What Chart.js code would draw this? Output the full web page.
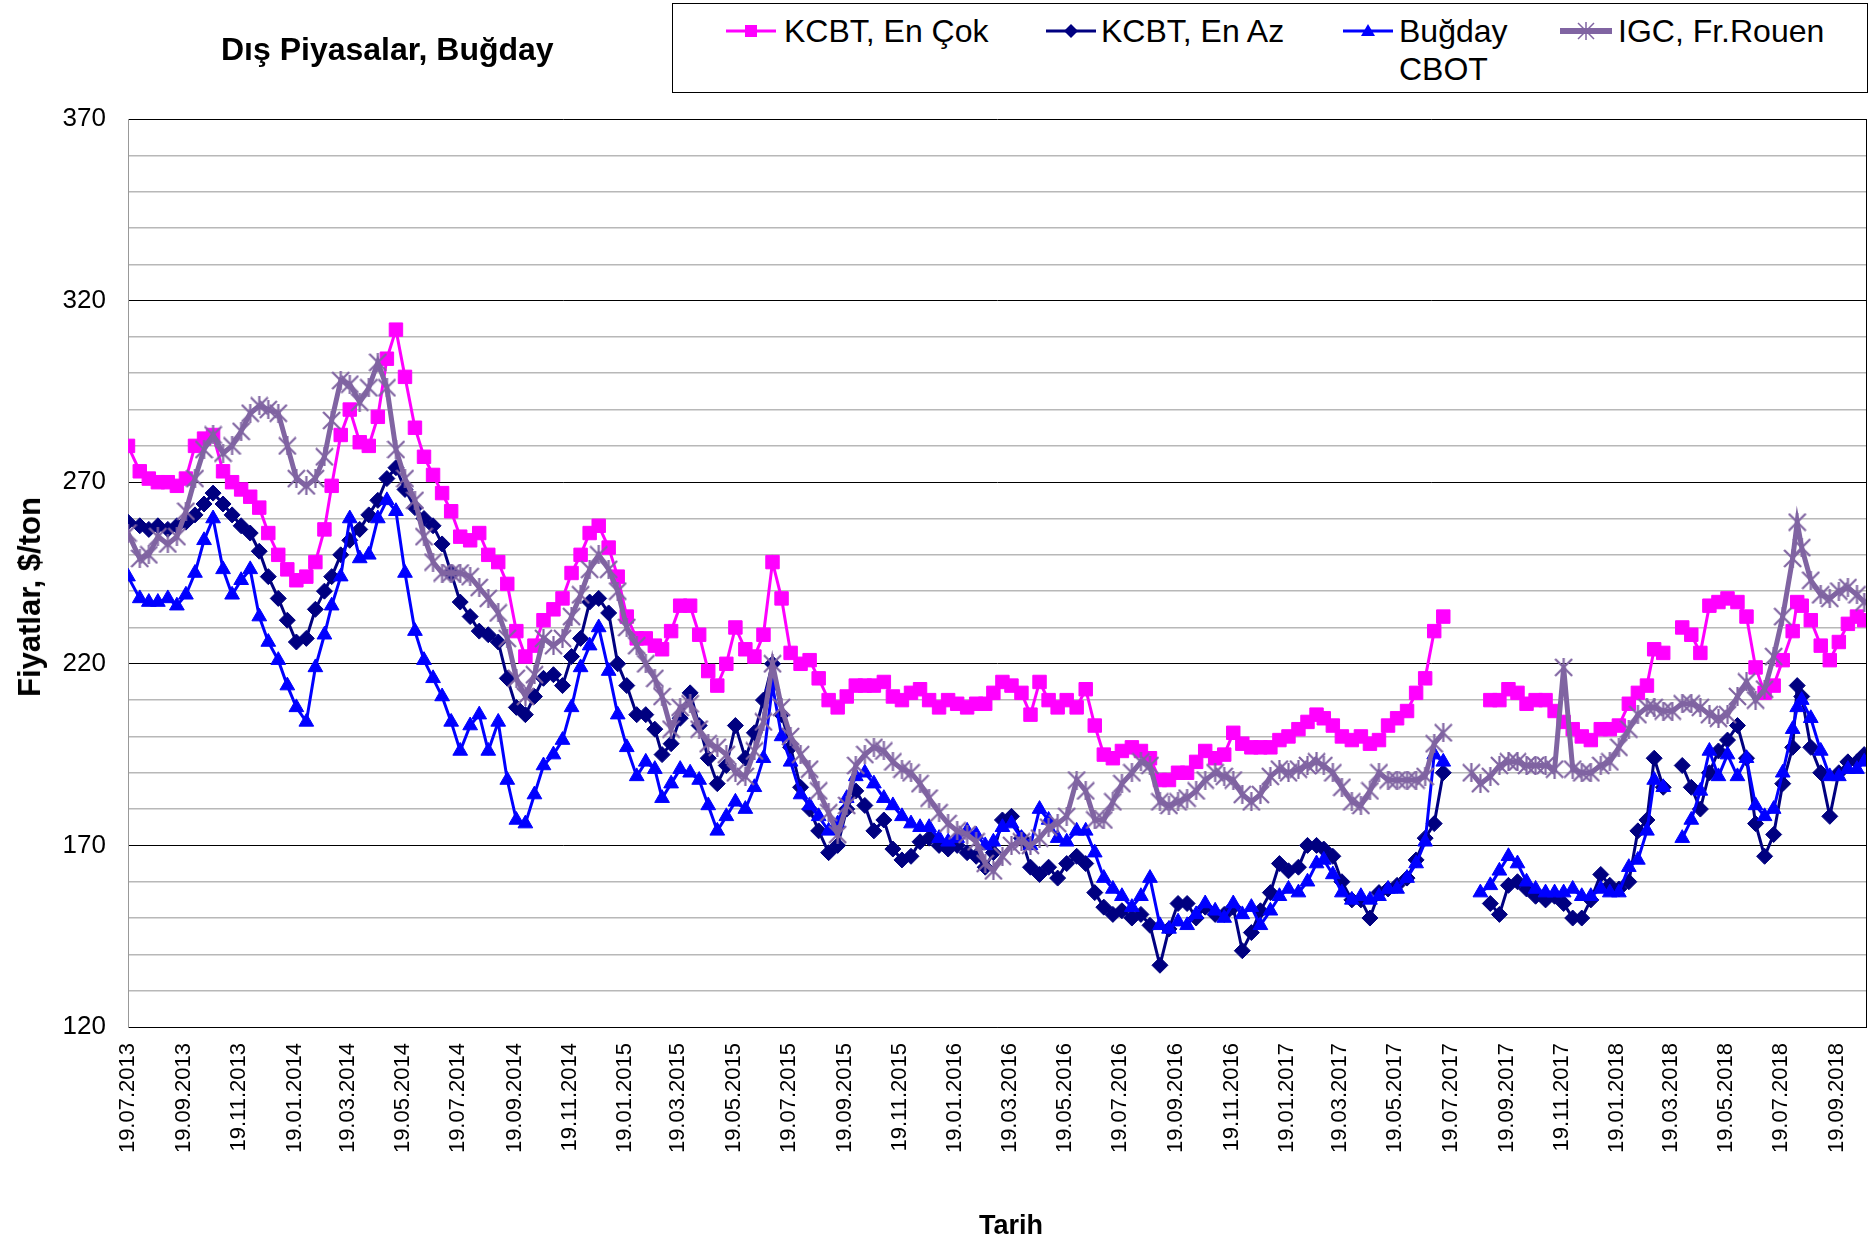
<!DOCTYPE html>
<html lang="tr">
<head>
<meta charset="utf-8">
<title>Dış Piyasalar, Buğday</title>
<script src="https://cdn.jsdelivr.net/npm/chart.js@4.4.0/dist/chart.umd.min.js"></script>
<style>
  html, body { margin: 0; padding: 0; background: #fff; }
  #wrap { position: relative; width: 1870px; height: 1244px; font-family: "Liberation Sans", Arial, sans-serif; color: #000; }
  #chart { position: absolute; left: 0; top: 0; }
  #title { position: absolute; left: 221px; top: 31px; font-size: 32px; font-weight: bold; white-space: nowrap; }
  #ytitle { position: absolute; left: 30px; top: 597px; transform: translate(-50%, -50%) rotate(-90deg); font-size: 31px; font-weight: bold; white-space: nowrap; }
  #xtitle { position: absolute; left: 1011px; top: 1225px; transform: translate(-50%, -50%); font-size: 27px; font-weight: bold; white-space: nowrap; }
  #legend { position: absolute; left: 672px; top: 3px; width: 1196px; height: 90px; border: 1px solid #000; box-sizing: border-box; background: #fff; }
  .item { position: absolute; top: 8px; font-size: 32px; line-height: 38px; white-space: nowrap; }
  .item svg { position: absolute; top: 9px; }
  .item span { position: absolute; top: 0; }
</style>
</head>
<body>
<div id="wrap">
  <canvas id="chart" width="1870" height="1244"></canvas>
  <div id="title">Dış Piyasalar, Buğday</div>
  <div id="ytitle">Fiyatlar, $/ton</div>
  <div id="xtitle">Tarih</div>
  <div id="legend">
    <div class="item" style="left:53px">
      <svg width="50" height="20"><line x1="0" y1="10" x2="50" y2="10" stroke="#FF00FF" stroke-width="3"/><rect x="19" y="4" width="12" height="12" fill="#FF00FF"/></svg>
      <span style="left:58px">KCBT, En Çok</span>
    </div>
    <div class="item" style="left:373px">
      <svg width="50" height="20"><line x1="0" y1="10" x2="50" y2="10" stroke="#000080" stroke-width="3"/><polygon points="25,3 32,10 25,17 18,10" fill="#000080"/></svg>
      <span style="left:55px">KCBT, En Az</span>
    </div>
    <div class="item" style="left:670px">
      <svg width="50" height="20"><line x1="0" y1="10" x2="50" y2="10" stroke="#0000FF" stroke-width="3"/><polygon points="25,3 32,15 18,15" fill="#0000FF"/></svg>
      <span style="left:56px">Buğday<br>CBOT</span>
    </div>
    <div class="item" style="left:887px">
      <svg width="52" height="20"><line x1="0" y1="10" x2="52" y2="10" stroke="#8064A2" stroke-width="6"/><path d="M18 2 L34 18 M34 2 L18 18 M26 1 L26 19" stroke="#8064A2" stroke-width="1.5"/></svg>
      <span style="left:58px">IGC, Fr.Rouen</span>
    </div>
  </div>
</div>
<script>
// observation dates (dd.mm.yyyy)
var dates = [
  '19.07.2013',
  '01.08.2013','11.08.2013','21.08.2013','01.09.2013','11.09.2013','21.09.2013',
  '01.10.2013','11.10.2013','21.10.2013','01.11.2013','11.11.2013','21.11.2013',
  '01.12.2013','11.12.2013','21.12.2013',
  '01.01.2014','11.01.2014','21.01.2014','01.02.2014','11.02.2014','21.02.2014',
  '01.03.2014','11.03.2014','21.03.2014','01.04.2014','11.04.2014','21.04.2014',
  '01.05.2014','11.05.2014','21.05.2014','01.06.2014','11.06.2014','21.06.2014',
  '01.07.2014','11.07.2014','21.07.2014','01.08.2014','11.08.2014','21.08.2014',
  '01.09.2014','11.09.2014','21.09.2014','01.10.2014','11.10.2014','21.10.2014',
  '01.11.2014','11.11.2014','21.11.2014','01.12.2014','11.12.2014','21.12.2014',
  '01.01.2015','11.01.2015','21.01.2015','01.02.2015','11.02.2015','21.02.2015',
  '01.03.2015','11.03.2015','21.03.2015','01.04.2015','11.04.2015','21.04.2015',
  '01.05.2015','11.05.2015','21.05.2015','01.06.2015','11.06.2015','21.06.2015',
  '01.07.2015','11.07.2015','21.07.2015','01.08.2015','11.08.2015','21.08.2015',
  '01.09.2015','11.09.2015','21.09.2015','01.10.2015','11.10.2015','21.10.2015',
  '01.11.2015','11.11.2015','21.11.2015','01.12.2015','11.12.2015','21.12.2015',
  '01.01.2016','11.01.2016','21.01.2016','01.02.2016','11.02.2016','21.02.2016',
  '01.03.2016','11.03.2016','21.03.2016','01.04.2016','11.04.2016','21.04.2016',
  '01.05.2016','11.05.2016','21.05.2016','01.06.2016','11.06.2016','21.06.2016',
  '01.07.2016','11.07.2016','21.07.2016','01.08.2016','11.08.2016','21.08.2016',
  '01.09.2016','11.09.2016','21.09.2016','01.10.2016','11.10.2016','21.10.2016',
  '01.11.2016','11.11.2016','21.11.2016','01.12.2016','11.12.2016','21.12.2016',
  '01.01.2017','11.01.2017','21.01.2017','01.02.2017','11.02.2017','21.02.2017',
  '01.03.2017','11.03.2017','21.03.2017','01.04.2017','11.04.2017','21.04.2017',
  '01.05.2017','11.05.2017','21.05.2017','01.06.2017','11.06.2017','21.06.2017',
  '01.07.2017','11.07.2017','21.07.2017','01.08.2017','11.08.2017','21.08.2017',
  '01.09.2017','11.09.2017','21.09.2017','01.10.2017','11.10.2017','21.10.2017',
  '01.11.2017','11.11.2017','21.11.2017','01.12.2017','11.12.2017','21.12.2017',
  '01.01.2018','11.01.2018','21.01.2018','01.02.2018','11.02.2018','21.02.2018',
  '01.03.2018','11.03.2018','21.03.2018','01.04.2018','11.04.2018','21.04.2018',
  '01.05.2018','11.05.2018','21.05.2018','01.06.2018','11.06.2018','21.06.2018',
  '01.07.2018','11.07.2018','21.07.2018','01.08.2018','06.08.2018','11.08.2018','21.08.2018',
  '01.09.2018','11.09.2018','21.09.2018','01.10.2018','11.10.2018','19.10.2018'
];

var kcbtEnCok = [
  280, 273,271,270, 270,269,271, 280,282,283, 273,270,268, 266,263,256,
  250,246,243, 244,248,257, 269,283,290, 281,280,288, 304,312,299, 285,277,272,
  267,262,255, 254,256,250, 248,242,229, 222,225,232, 235,238,245, 250,256,258,
  252,244,233, 227,227,225, 224,229,236, 236,228,218, 214,220,230, 224,222,228,
  248,238,223, 220,221,216, 210,208,211, 214,214,214, 215,211,210, 212,213,210,
  208,210,209, 208,209,209, 212,215,214, 212,206,215, 210,208,210, 208,213,203,
  195,194,196, 197,196,194, 188,188,190, 190,193,196, 194,195,201, 198,197,197,
  197,199,200, 202,204,206, 205,203,200, 199,200,198, 199,203,205, 207,212,216,
  229,233,null, null,null,null, 210,210,213, 212,209,210, 210,207,204, 202,200,199,
  202,202,203, 209,212,214, 224,223,null, 230,228,223, 236,237,238, 237,233,219,
  212,214,221, 229,237,236,232, 225,221,226, 231,233,232
];

var kcbtEnAz = [
  259, 258,257,258, 257,258,259, 261,264,267, 264,261,258, 256,251,244,
  238,232,226, 227,235,240, 244,250,254, 257,261,265, 271,274,268, 263,260,258,
  253,245,237, 233,229,228, 226,216,208, 206,211,216, 217,214,222, 227,237,238,
  234,220,214, 206,206,202, 195,198,205, 212,203,194, 187,192,203, 194,201,210,
  220,206,197, 186,180,174, 168,170,180, 185,181,174, 177,169,166, 167,171,172,
  170,169,170, 168,167,164, 168,177,178, 172,164,162, 164,161,165, 167,165,157,
  153,151,152, 150,151,148, 137,147,154, 154,150,153, 151,151,153, 141,146,152,
  157,165,163, 164,170,170, 169,167,160, 155,155,150, 157,158,159, 161,166,172,
  176,190,null, null,null,null, 154,151,159, 160,158,156, 155,156,154, 150,150,155,
  162,159,158, 160,174,177, 194,186,null, 192,186,180, 190,196,199, 203,194,176,
  167,173,187, 197,214,211,197, 190,178,190, 193,193,195
];

var bugdayCbot = [
  244, 238,237,237, 238,236,239, 245,254,260, 246,239,243, 246,233,226,
  221,214,208, 204,219,228, 236,244,260, 249,250,260, 265,262,245, 229,221,216,
  211,204,196, 203,206,196, 204,188,177, 176,184,192, 195,199,208, 219,225,230,
  218,206,197, 189,193,191, 183,187,191, 190,188,181, 174,178,182, 180,186,194,
  214,200,193, 184,181,178, 174,176,183, 189,190,187, 183,181,178, 176,175,175,
  172,171,172, 174,173,170, 171,175,176, 172,170,180, 177,172,171, 174,174,168,
  161,158,156, 153,156,161, 148,147,149, 148,151,154, 152,150,154, 151,153,148,
  152,156,158, 157,160,165, 166,162,157, 155,156,155, 156,158,158, 161,165,171,
  195,193,null, null,null,157, 159,163,167, 165,160,158, 157,157,157, 158,156,156,
  158,157,157, 164,166,174, 188,186,null, 172,177,185, 196,189,195, 189,194,181,
  178,180,190, 202,208,210,205, 196,189,189, 191,191,193
];

var igcRouen = [
  256, 249,250,255, 253,255,262, 271,279,283, 278,280,284, 289,291,290,
  289,280,271, 269,271,277, 287,298,297, 292,296,303, 296,279,271, 265,255,248,
  245,245,245, 244,241,238, 234,227,216, 211,217,227, 225,227,233, 239,246,250,
  246,240,230, 225,220,216, 211,202,208, 209,202,198, 197,195,190, 189,196,204,
  220,208,200, 195,191,185, 179,173,181, 192,195,197, 196,193,191, 190,187,183,
  179,176,174, 173,171,165, 163,167,170, 171,170,172, 175,176,178, 188,185,177,
  177,182,187, 190,193,192, 182,181,182, 183,185,188, 190,189,188, 184,182,184,
  189,191,190, 191,192,193, 192,190,186, 182,181,185, 190,188,188, 188,188,189,
  198,201,null, null,190,187, 189,192,193, 193,192,192, 192,191,219, 191,190,190,
  192,193,197, 202,206,208, 208,207,207, 209,209,208, 206,205,206, 211,215,210,
  213,222,233, 249,259,252,243, 239,238,240, 241,239,237
];

var tickDates = [
  '19.07.2013','19.09.2013','19.11.2013','19.01.2014','19.03.2014','19.05.2014',
  '19.07.2014','19.09.2014','19.11.2014','19.01.2015','19.03.2015','19.05.2015',
  '19.07.2015','19.09.2015','19.11.2015','19.01.2016','19.03.2016','19.05.2016',
  '19.07.2016','19.09.2016','19.11.2016','19.01.2017','19.03.2017','19.05.2017',
  '19.07.2017','19.09.2017','19.11.2017','19.01.2018','19.03.2018','19.05.2018',
  '19.07.2018','19.09.2018'
];

var yLabels = [120, 170, 220, 270, 320, 370];

function toDay(s) {
  var p = s.split('.');
  return Date.UTC(+p[2], +p[1] - 1, +p[0]) / 864e5;
}

function points(vals) {
  return dates.map(function (d, i) { return { x: toDay(d), y: vals[i] }; });
}

// X mark with a vertical stroke, like the spreadsheet "star" marker
function starMarker(size, color) {
  var c = document.createElement('canvas');
  c.width = size; c.height = size;
  var g = c.getContext('2d');
  g.strokeStyle = color;
  g.lineWidth = 2.2;
  g.beginPath();
  g.moveTo(1, 1); g.lineTo(size - 1, size - 1);
  g.moveTo(size - 1, 1); g.lineTo(1, size - 1);
  g.moveTo(size / 2, 0); g.lineTo(size / 2, size);
  g.stroke();
  return c;
}

var frame = {
  id: 'frame',
  afterDraw: function (chart) {
    var a = chart.chartArea, ctx = chart.ctx;
    ctx.save();
    ctx.strokeStyle = '#000';
    ctx.lineWidth = 1;
    ctx.beginPath();
    ctx.moveTo(a.right + 0.5, a.top);
    ctx.lineTo(a.right + 0.5, a.bottom);
    ctx.stroke();
    ctx.restore();
  }
};

var purple = '#8064A2';

new Chart(document.getElementById('chart'), {
  type: 'line',
  data: {
    datasets: [
      {
        label: 'KCBT, En Çok',
        data: points(kcbtEnCok),
        borderColor: '#FF00FF', backgroundColor: '#FF00FF',
        borderWidth: 3, pointStyle: 'rect', pointRadius: 9.5,
        pointBorderWidth: 1, order: 4
      },
      {
        label: 'KCBT, En Az',
        data: points(kcbtEnAz),
        borderColor: '#000080', backgroundColor: '#000080',
        borderWidth: 3, pointStyle: 'rectRot', pointRadius: 8,
        pointBorderWidth: 1, order: 3
      },
      {
        label: 'Buğday CBOT',
        data: points(bugdayCbot),
        borderColor: '#0000FF', backgroundColor: '#0000FF',
        borderWidth: 3, pointStyle: 'triangle', pointRadius: 8.5,
        pointBorderWidth: 1, order: 2
      },
      {
        label: 'IGC, Fr.Rouen',
        data: points(igcRouen),
        borderColor: purple, backgroundColor: purple,
        borderWidth: 5, pointStyle: starMarker(19, purple), pointRadius: 9,
        order: 1
      }
    ]
  },
  options: {
    responsive: false,
    animation: false,
    events: [],
    devicePixelRatio: 1,
    spanGaps: false,
    layout: { autoPadding: false, padding: { top: 119, right: 4, left: 0, bottom: 0 } },
    plugins: { legend: { display: false }, tooltip: { enabled: false } },
    elements: { line: { tension: 0 } },
    scales: {
      x: {
        type: 'linear',
        min: toDay('19.07.2013'),
        max: toDay('21.10.2018'),
        afterBuildTicks: function (scale) {
          scale.ticks = tickDates.map(function (d) { return { value: toDay(d) }; });
        },
        afterFit: function (scale) {
          scale.height = 217;
          scale.paddingLeft = 0;
          scale.paddingRight = 0;
        },
        ticks: {
          autoSkip: false, minRotation: 90, maxRotation: 90, padding: 8,
          color: '#000', font: { family: 'Liberation Sans', size: 22 },
          callback: function (v, i) { return tickDates[i]; }
        },
        grid: { display: false },
        border: { display: true, color: '#000' }
      },
      y: {
        min: 120, max: 370,
        afterFit: function (scale) { scale.width = 128; },
        ticks: {
          stepSize: 10, autoSkip: false, padding: 22,
          color: '#000', font: { family: 'Liberation Sans', size: 26 },
          callback: function (v) { return yLabels.indexOf(v) >= 0 ? v : ''; }
        },
        grid: {
          drawTicks: false,
          color: function (c) { return yLabels.indexOf(c.tick.value) >= 0 ? '#000' : '#b8b8b8'; },
          lineWidth: function (c) { return yLabels.indexOf(c.tick.value) >= 0 ? 1 : 1.5; }
        },
        border: { color: '#999' }
      }
    }
  },
  plugins: [frame]
});
</script>
</body>
</html>
